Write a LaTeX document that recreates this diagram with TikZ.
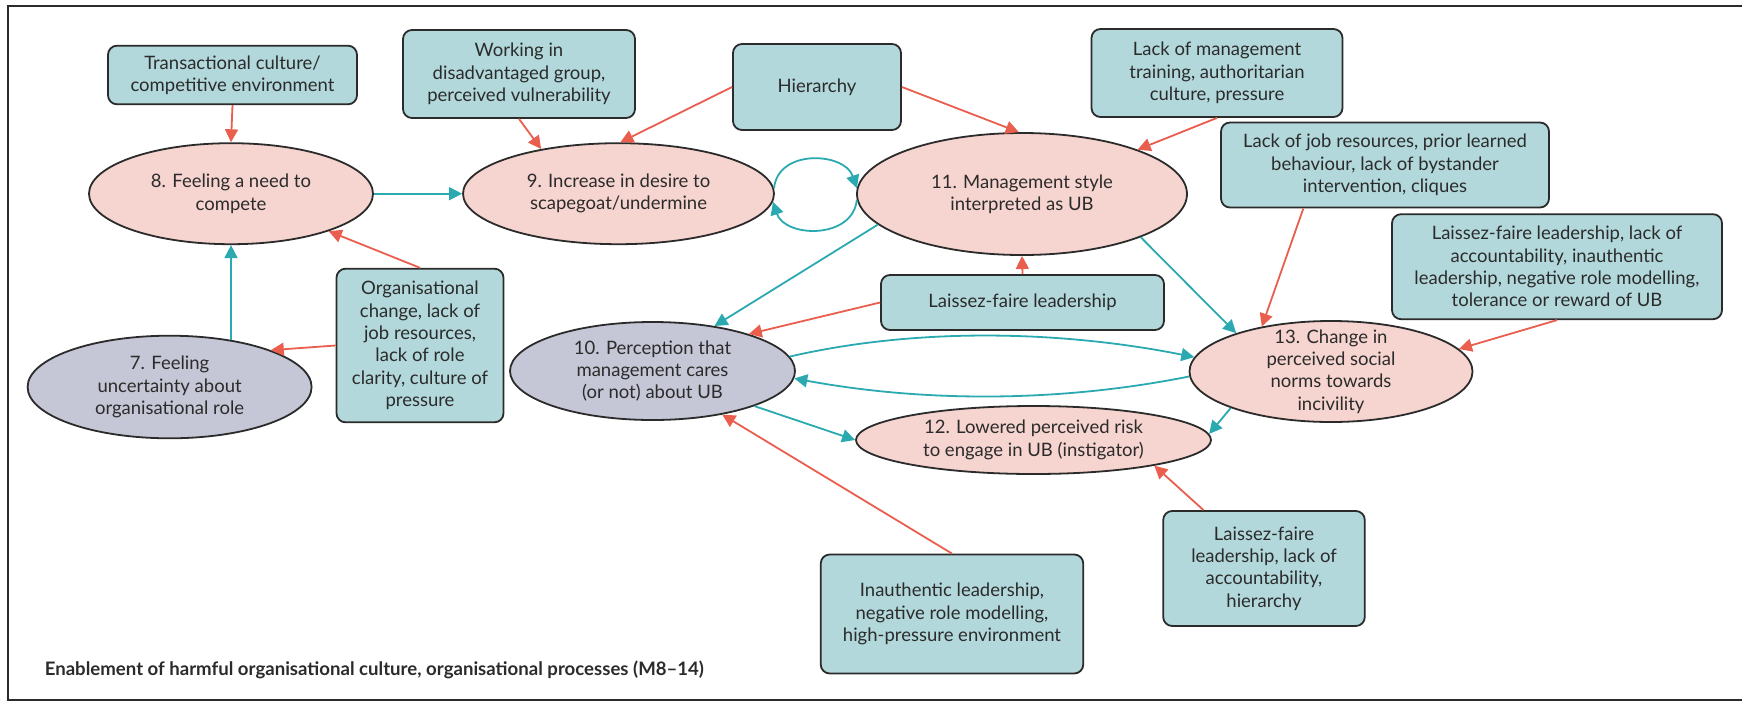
\documentclass[tikz,border=0pt]{standalone}
\usepackage{fontspec}
\setmainfont{Lato}
\usetikzlibrary{shapes.geometric,arrows.meta}
\definecolor{boxfill}{HTML}{B2D8DB}
\definecolor{pinkfill}{HTML}{F6D4CF}
\definecolor{greyfill}{HTML}{C5C6D6}
\definecolor{tealline}{HTML}{2AAAB0}
\definecolor{redline}{HTML}{EA5E4E}
\definecolor{ink}{HTML}{2B2B2B}
\begin{document}
\begin{tikzpicture}[x=1pt,y=-1pt,
  factor/.style={draw=ink,line width=1.8pt,fill=boxfill,rounded corners=9pt,inner sep=0pt,
    align=center,text=ink,font=\fontsize{18.5}{22.3}\selectfont},
  oval/.style={ellipse,draw=ink,line width=1.8pt,inner sep=0pt},
  pinkoval/.style={oval,fill=pinkfill},
  greyoval/.style={oval,fill=greyfill},
  txt/.style={align=center,text=ink,font=\fontsize{18.5}{22.3}\selectfont,inner sep=0pt},
  redarrow/.style={draw=redline,line width=1.8pt,-{Triangle[length=13pt,width=13pt]}},
  tealarrow/.style={draw=tealline,line width=1.8pt,-{Triangle[length=13pt,width=13pt]}},
]
\useasboundingbox (0,0) rectangle (1742,702);
\draw[ink,line width=2pt] (8,6) rectangle (1790,700);

% outcome ellipses
\node[pinkoval,minimum width=284pt,minimum height=101pt] (n8) at (231,193.7) {};
\node[txt] (t8) at (n8.center) {8. Feeling a need to\\compete};
\node[pinkoval,minimum width=311pt,minimum height=101pt] (n9) at (618.5,193.7) {};
\node[txt] (t9) at (n9.center) {9. Increase in desire to\\scapegoat/undermine};
\node[pinkoval,minimum width=330pt,minimum height=122pt] (n11) at (1022,194) {};
\node[txt] (t11) at (n11.center) {11. Management style\\interpreted as UB};
\node[greyoval,minimum width=284pt,minimum height=102.6pt] (n7) at (169.6,387) {};
\node[txt] (t7) at (n7.center) {7. Feeling\\uncertainty about\\organisational role};
\node[greyoval,minimum width=285pt,minimum height=98pt] (n10) at (652.5,371) {};
\node[txt] (t10) at (n10.center) {10. Perception that\\management cares\\(or not) about UB};
\node[pinkoval,minimum width=355pt,minimum height=68pt] (n12) at (1033.5,440) {};
\node[txt] (t12) at (n12.center) {12. Lowered perceived risk\\to engage in UB (instigator)};
\node[pinkoval,minimum width=283pt,minimum height=101pt] (n13) at (1331,371.5) {};
\node[txt] (t13) at (n13.center) {13. Change in\\perceived social\\norms towards\\incivility};

% contributing factors
\node[factor,minimum width=249pt,minimum height=58.6pt] (trans) at (232.5,75) {Transactional culture/\\competitive environment};
\node[factor,minimum width=232pt,minimum height=88pt] (work) at (519,74) {Working in\\disadvantaged group,\\perceived vulnerability};
\node[factor,minimum width=168pt,minimum height=86pt] (hier) at (817,87) {Hierarchy};
\node[factor,minimum width=251pt,minimum height=88pt] (lm) at (1217,73) {Lack of management\\training, authoritarian\\culture, pressure};
\node[factor,minimum width=328pt,minimum height=85pt] (ljr) at (1385,165) {Lack of job resources, prior learned\\behaviour, lack of bystander\\intervention, cliques};
\node[factor,minimum width=330pt,minimum height=105pt] (lfla) at (1557,266.7) {Laissez-faire leadership, lack of\\accountability, inauthentic\\leadership, negative role modelling,\\tolerance or reward of UB};
\node[factor,minimum width=167pt,minimum height=153.6pt] (org) at (420,345.5) {Organisational\\change, lack of\\job resources,\\lack of role\\clarity, culture of\\pressure};
\node[factor,minimum width=283pt,minimum height=55pt] (lf) at (1022.5,302.5) {Laissez-faire leadership};
\node[factor,minimum width=262.5pt,minimum height=119pt] (ina) at (952,614) {Inauthentic leadership,\\negative role modelling,\\high-pressure environment};
\node[factor,minimum width=201.6pt,minimum height=115pt] (lfh) at (1264,568.5) {Laissez-faire\\leadership, lack of\\accountability,\\hierarchy};

\node[anchor=base west,inner sep=0pt,text=ink,font=\bfseries\fontsize{18.6}{22}\selectfont] (caption) at (44.6,675.7)
  {Enablement of harmful organisational culture, organisational processes (M8–14)};

% influences of factors (red)
\draw[redarrow] (trans.south) -- (n8.north);
\draw[redarrow] (work.south) -- (n9.150);
\draw[redarrow] (hier.west) -- (n9.88);
\draw[redarrow] (hier.east) -- (n11.93);
\draw[redarrow] (lm.south) -- (n11.21);
\draw[redarrow] (ljr.208) -- (n13.147);
\draw[redarrow] (lfla.south) -- (n13.10);
\draw[redarrow] (org.north) -- (n8.-21);
\draw[redarrow] (org.west) -- (n7.20);
\draw[redarrow] (lf.north) -- (n11.south);
\draw[redarrow] (lf.west) -- (n10.21);
\draw[redarrow] (ina.north) -- (n10.-32);
\draw[redarrow] (lfh.136) -- (n12.-12);

% links between outcomes (teal)
\draw[tealarrow] (n7.36 -| n8.south) -- (n8.south);
\draw[tealarrow] (n8.east) -- (n9.west);
\draw[tealarrow] (n9.2) .. controls +(4,-40) and +(-12,-36) .. (n11.178);
\draw[tealarrow] (n11.182) .. controls +(-4,40) and +(12,36) .. (n9.-3);
\draw[tealarrow] (n11.192) -- (n10.36);
\draw[tealarrow] (n11.-20) -- (n13.158);
\draw[tealarrow] (n10.6) .. controls +(130,-30) and +(-130,-26) .. (n13.174);
\draw[tealarrow] (n13.182) .. controls +(-130,26) and +(130,24) .. (n10.-3);
\draw[tealarrow] (n10.-19) -- (n12.180);
\draw[tealarrow] (n13.200) -- (n12.2);
\end{tikzpicture}
\end{document}
